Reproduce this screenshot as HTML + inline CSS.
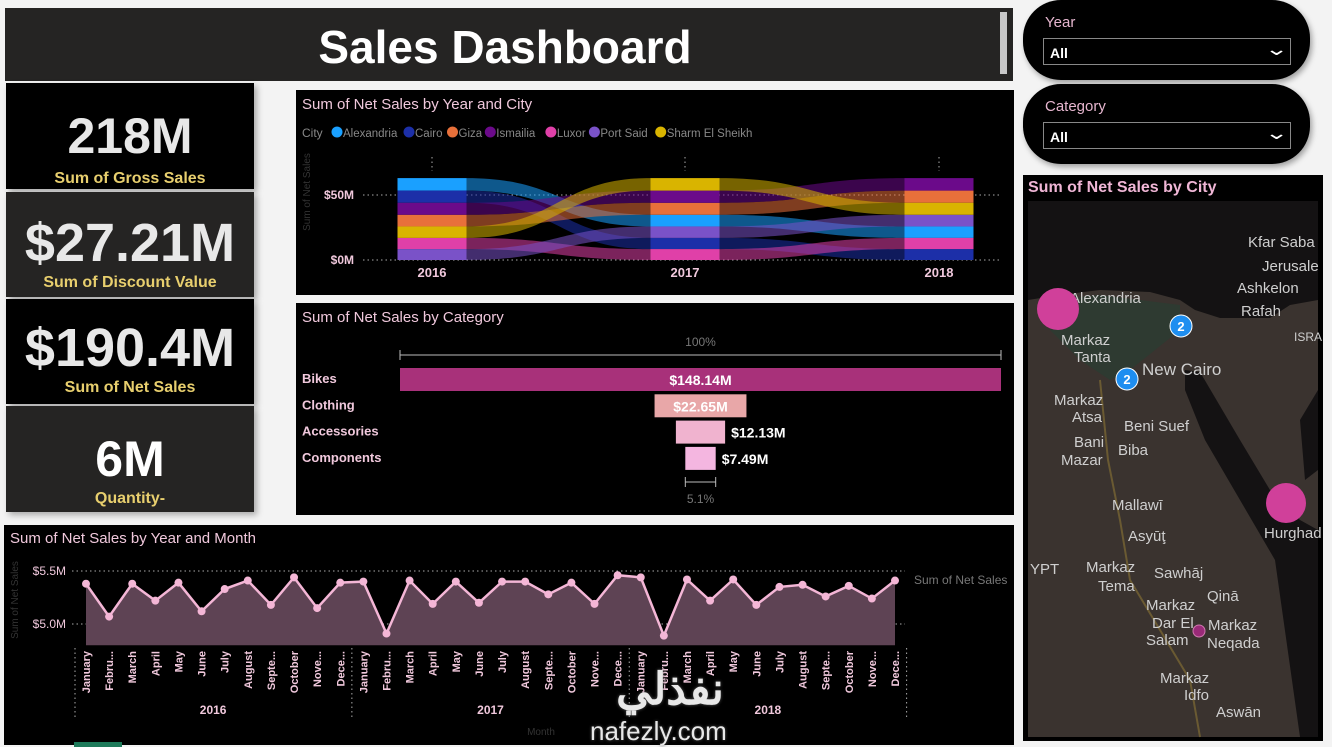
<!DOCTYPE html>
<html><head><meta charset="utf-8">
<style>
*{box-sizing:border-box;margin:0;padding:0}
body{width:1332px;height:747px;background:#f3f3f3;position:relative;overflow:hidden;font-family:"Liberation Sans",sans-serif}
.abs{position:absolute}
.kpi{position:absolute;left:6px;width:248px;text-align:center;box-shadow:3px 3px 6px rgba(0,0,0,.3)}
.kv{color:#e8e8e8;font-weight:bold;font-size:50px;font-family:"Liberation Sans Narrow","Liberation Sans",sans-serif;line-height:1}
.kl{color:#e8cf6e;font-weight:bold;font-size:16px;font-family:"Liberation Sans Narrow","Liberation Sans",sans-serif}
.panel{position:absolute;background:#000}
.slicer{position:absolute;left:1023px;width:287px;height:80px;background:#000;border-radius:38px;box-shadow:2px 3px 6px rgba(0,0,0,.35)}
.slab{position:absolute;left:22px;top:14px;color:#e6b6cf;font-size:15px}
.sbox{position:absolute;left:20px;top:38px;width:248px;height:27px;border:1px solid #888;color:#fff;font-size:14px;padding:6px 0 0 6px;font-weight:bold}
svg text{font-family:"Liberation Sans Narrow","Liberation Sans",sans-serif}
</style></head><body>

<div class="abs" style="left:5px;top:8px;width:1008px;height:73px;background:#252423;">
  <div style="position:absolute;left:0;width:1000px;top:12px;text-align:center;color:#fff;font-size:46px;font-weight:bold">Sales Dashboard</div>
  <div style="position:absolute;left:995px;top:4px;width:7px;height:62px;background:#c8c8c8"></div>
</div>

<div class="kpi" style="top:83px;height:106px;background:#000"><div class="kv" style="margin-top:28px">218M</div><div class="kl" style="margin-top:9px">Sum of Gross Sales</div></div>
<div class="kpi" style="top:192px;height:105px;background:#252423"><div class="kv" style="margin-top:24px;font-size:54px">$27.21M</div><div class="kl" style="margin-top:4px">Sum of Discount Value</div></div>
<div class="kpi" style="top:299px;height:105px;background:#000"><div class="kv" style="margin-top:22px;font-size:54px">$190.4M</div><div class="kl" style="margin-top:4px">Sum of Net Sales</div></div>
<div class="kpi" style="top:406px;height:106px;background:#252423"><div class="kv" style="margin-top:28px;color:#fff">6M</div><div class="kl" style="margin-top:6px">Quantity-</div></div>

<div class="slicer" style="top:0">
 <div class="slab">Year</div>
 <div class="sbox">All<span style="position:absolute;right:6px;top:0;font-weight:normal;font-size:18px;transform:scaleX(1.6)">⌄</span></div>
</div>
<div class="slicer" style="top:84px">
 <div class="slab">Category</div>
 <div class="sbox">All<span style="position:absolute;right:6px;top:0;font-weight:normal;font-size:18px;transform:scaleX(1.6)">⌄</span></div>
</div>

<div class="panel" style="left:296px;top:90px;width:718px;height:205px"></div>
<svg id="ribbon" class="abs" style="left:0;top:0" width="1332" height="747"></svg>

<div class="panel" style="left:296px;top:303px;width:718px;height:212px"></div>
<svg id="funnel" class="abs" style="left:0;top:0" width="1332" height="747"></svg>

<div class="panel" style="left:4px;top:525px;width:1010px;height:220px"></div>
<svg id="line" class="abs" style="left:0;top:0" width="1332" height="747"></svg>

<div class="panel" style="left:1023px;top:175px;width:300px;height:566px"></div>
<svg class="abs" style="left:0;top:0" width="1332" height="747">
 <text x="1028" y="192" fill="#f0b6d6" font-size="16" font-weight="bold" style="font-family:'Liberation Sans',sans-serif">Sum of Net Sales by City</text>
 <rect x="1028" y="201" width="290" height="536" fill="#3a332f"/>
 <path d="M1028 201 H1318 V300 L1290 305 L1270 318 L1220 318 L1195 310 L1180 300 L1150 292 L1100 290 L1060 295 L1028 300 Z" fill="#141213"/>
 <path d="M1045 300 L1100 295 L1180 305 L1180 330 L1130 370 L1110 380 L1080 360 L1050 330 Z" fill="#2e3a31"/>
 <path d="M1185 370 L1200 372 L1240 440 L1270 490 L1300 520 L1318 530 L1318 737 L1300 737 L1275 560 L1240 500 L1205 440 L1185 390 Z" fill="#141213"/>
 <path d="M1300 420 L1318 390 L1318 470 L1305 480 Z" fill="#141213"/>
 <path d="M1100 380 L1108 460 L1120 520 L1130 580 L1160 630 L1190 680 L1200 737" stroke="#6a5a32" stroke-width="2" fill="none"/>
 <g fill="#cfcfcf" font-size="15" style="font-family:'Liberation Sans',sans-serif">
  <text x="1248" y="247">Kfar Saba</text><text x="1262" y="271">Jerusale</text><text x="1237" y="293">Ashkelon</text><text x="1241" y="316">Rafah</text><text x="1294" y="341" font-size="12">ISRA</text>
  <text x="1070" y="303">Alexandria</text><text x="1061" y="345">Markaz</text><text x="1074" y="362">Tanta</text><text x="1142" y="375" font-size="17">New Cairo</text>
  <text x="1054" y="405">Markaz</text><text x="1072" y="422">Atsa</text><text x="1124" y="431">Beni Suef</text><text x="1074" y="447">Bani</text><text x="1118" y="455">Biba</text><text x="1061" y="465">Mazar</text>
  <text x="1112" y="510">Mallawī</text><text x="1128" y="541">Asyūţ</text><text x="1030" y="574">YPT</text><text x="1086" y="572">Markaz</text><text x="1098" y="591">Tema</text><text x="1154" y="578">Sawhāj</text>
  <text x="1207" y="601">Qinā</text><text x="1146" y="610">Markaz</text><text x="1152" y="628">Dar El</text><text x="1146" y="645">Salam</text><text x="1208" y="630">Markaz</text><text x="1207" y="648">Neqada</text>
  <text x="1160" y="683">Markaz</text><text x="1184" y="700">Idfo</text><text x="1216" y="717">Aswān</text><text x="1264" y="538">Hurghad</text>
 </g>
 <circle cx="1058" cy="309" r="21" fill="#d0409a"/>
 <circle cx="1286" cy="503" r="20" fill="#d0409a"/>
 <circle cx="1199" cy="631" r="6" fill="#9a2a78" stroke="#d07ab0"/>
 <circle cx="1181" cy="326" r="11" fill="#1e8ef0" stroke="#fff"/>
 <text x="1181" y="331" fill="#fff" font-size="13" text-anchor="middle" font-weight="bold">2</text>
 <circle cx="1127" cy="379" r="11" fill="#1e8ef0" stroke="#fff"/>
 <text x="1127" y="384" fill="#fff" font-size="13" text-anchor="middle" font-weight="bold">2</text>
</svg>

<div class="abs" style="left:590px;top:668px;width:160px;text-align:center;color:#e8e8e8;font-size:44px;font-weight:bold;line-height:1;font-family:'Liberation Sans','Noto Sans CJK SC',sans-serif;text-shadow:0 0 3px #555">نفذلي</div>
<div class="abs" style="left:590px;top:716px;color:#e8e8e8;font-size:26px;font-family:'Liberation Sans',sans-serif;text-shadow:0 0 3px #555">nafezly.com</div>
<div class="abs" style="left:74px;top:742px;width:48px;height:5px;background:#1e7a5a"></div>

<script>
const NS='http://www.w3.org/2000/svg';
function mk(parent,tag,attrs,txt){const e=document.createElementNS(NS,tag);for(const k in attrs)e.setAttribute(k,attrs[k]);if(txt!==undefined)e.textContent=txt;parent.appendChild(e);return e;}

const ribbonYears=['2016','2017','2018'];
const ribbonCities=['Alexandria','Cairo','Giza','Ismailia','Luxor','Port Said','Sharm El Sheikh'];
const ribbonColors=['#1aa0ff','#1c2fa8','#e8703a','#6b0a8a','#e040a8','#7a52c8','#d9b400'];
const sales2016=[9.6,9.4,9.0,9.2,8.6,8.4,8.8];
const sales2017=[9.0,8.6,9.2,9.4,8.4,8.8,9.6];
const sales2018=[8.8,8.4,9.4,9.6,8.6,9.0,9.2];
const ribbonTicks=[0,50];
const ribbonTickLabels=['$0M','$50M'];

const rs=document.getElementById('ribbon');
mk(rs,'text',{x:302,y:109,fill:'#f0c8dc','font-size':15},'Sum of Net Sales by Year and City');
mk(rs,'text',{x:302,y:137,fill:'#888','font-size':12},'City');
let lx=331;
ribbonCities.forEach((c,i)=>{
  const g=mk(rs,'g',{});
  
  
  mk(g,'circle',{cx:lx+6,cy:132,r:5.5,fill:ribbonColors[i]});
  mk(g,'text',{x:lx+12,y:137,fill:'#888','font-size':11.5},c);
  lx+=12+c.length*5.7+3;
});
const rY=v=>260-v*1.3;
const rXc=[432,685,939], rBW=69;
ribbonTicks.forEach((t,i)=>{
  mk(rs,'line',{x1:363,x2:1000,y1:rY(t),y2:rY(t),stroke:'#aaa','stroke-dasharray':'1.5 3'});
  mk(rs,'text',{x:354,y:rY(t)+4,fill:'#f0c8dc','font-size':12,'font-weight':'bold','text-anchor':'end'},ribbonTickLabels[i]);
});
mk(rs,'text',{x:310,y:192,fill:'#333','font-size':10,transform:'rotate(-90 310 192)','text-anchor':'middle'},'Sum of Net Sales');
const allSales=[sales2016,sales2017,sales2018];
const stacks=allSales.map(vals=>{
  const order=vals.map((v,i)=>i).sort((a,b)=>vals[a]-vals[b]);
  const pos=[];let acc=0;
  order.forEach(i=>{pos[i]=[acc,acc+vals[i]];acc+=vals[i];});
  return pos;
});
for(let y=0;y<2;y++){
  const x1=rXc[y]+rBW/2,x2=rXc[y+1]-rBW/2,mx=(x1+x2)/2;
  ribbonCities.forEach((c,i)=>{
    const a=stacks[y][i],b=stacks[y+1][i];
    const t1=rY(a[1]),b1=rY(a[0]),t2=rY(b[1]),b2=rY(b[0]);
    const p=mk(rs,'path',{d:`M${x1} ${t1} C${mx} ${t1} ${mx} ${t2} ${x2} ${t2} L${x2} ${b2} C${mx} ${b2} ${mx} ${b1} ${x1} ${b1} Z`,fill:ribbonColors[i],opacity:0.55});
    
    
  });
}
ribbonYears.forEach((yr,y)=>{
  mk(rs,'line',{x1:rXc[y],x2:rXc[y],y1:157,y2:171,stroke:'#aaa','stroke-dasharray':'1.5 3'});
  ribbonCities.forEach((c,i)=>{
    const s=stacks[y][i];
    const r=mk(rs,'rect',{x:rXc[y]-rBW/2,y:rY(s[1]),width:rBW,height:rY(s[0])-rY(s[1]),fill:ribbonColors[i]});
    
    
  });
  mk(rs,'text',{x:rXc[y],y:277,fill:'#f0c8dc','font-size':13,'font-weight':'bold','text-anchor':'middle'},yr);
});

const funnelCats=['Bikes','Clothing','Accessories','Components'];
const funnelVals=[148.14,22.65,12.13,7.49];
const funnelLabels=['$148.14M','$22.65M','$12.13M','$7.49M'];
const funnelColors=['#a8317a','#e8a7a8','#f0b3cf','#f4b6e0'];
const fs=document.getElementById('funnel');
mk(fs,'text',{x:302,y:322,fill:'#f0c8dc','font-size':15},'Sum of Net Sales by Category');
const fL=400,fR=1001,fC=(fL+fR)/2,fMax=Math.max(...funnelVals);
const fW=v=>v/fMax*(fR-fL);
mk(fs,'text',{x:fC,y:346,fill:'#777','font-size':12,'text-anchor':'middle'},'100%');
mk(fs,'path',{d:`M${fL} 350 V360 M${fL} 355 H${fR} M${fR} 350 V360`,stroke:'#bbb',fill:'none'});
funnelCats.forEach((c,i)=>{
  const y=368+i*26.3,w=fW(funnelVals[i]);
  const r=mk(fs,'rect',{x:fC-w/2,y:y,width:w,height:23,fill:funnelColors[i]});
  
  
  mk(fs,'text',{x:302,y:y+15,fill:'#f0c8dc','font-size':13,'font-weight':'bold'},c);
  const inside=w>80;
  mk(fs,'text',{x:inside?fC:fC+w/2+6,y:y+17,fill:'#fff','font-size':14,'font-weight':'bold','text-anchor':inside?'middle':'start'},funnelLabels[i]);
});
const lastW=fW(funnelVals[funnelVals.length-1]);
mk(fs,'path',{d:`M${fC-lastW/2} 477 V487 M${fC-lastW/2} 482 H${fC+lastW/2} M${fC+lastW/2} 477 V487`,stroke:'#bbb',fill:'none'});
mk(fs,'text',{x:fC,y:503,fill:'#777','font-size':12,'text-anchor':'middle'},(funnelVals[3]/funnelVals[0]*100).toFixed(1)+'%');

const lineYears=['2016','2017','2018'];
const lineMonths=['January','Febru...','March','April','May','June','July','August','Septe...','October','Nove...','Dece...'];
const net2016=[5.38,5.07,5.38,5.22,5.39,5.12,5.33,5.41,5.18,5.44,5.15,5.39];
const net2017=[5.40,4.91,5.41,5.19,5.40,5.20,5.40,5.40,5.28,5.39,5.19,5.46];
const net2018=[5.44,4.89,5.42,5.22,5.42,5.18,5.35,5.37,5.26,5.36,5.24,5.41];
const lineTicks=[5.0,5.5];
const lineTickLabels=['$5.0M','$5.5M'];
const ls=document.getElementById('line');
mk(ls,'text',{x:10,y:543,fill:'#f0c8dc','font-size':15},'Sum of Net Sales by Year and Month');
const lineVals=net2016.concat(net2017,net2018);
const lY=v=>571+(5.5-v)*106;
const lX=i=>86+i*(895-86)/35;
const base=4.8;
lineTicks.forEach((t,i)=>{
  mk(ls,'line',{x1:72,x2:905,y1:lY(t),y2:lY(t),stroke:'#aaa','stroke-dasharray':'1.5 3'});
  mk(ls,'text',{x:66,y:lY(t)+4,fill:'#f0c8dc','font-size':12,'text-anchor':'end'},lineTickLabels[i]);
});
mk(ls,'text',{x:18,y:600,fill:'#333','font-size':10,transform:'rotate(-90 18 600)','text-anchor':'middle'},'Sum of Net Sales');
let area=`M${lX(0)} ${lY(base)}`;lineVals.forEach((v,i)=>area+=` L${lX(i)} ${lY(v)}`);area+=` L${lX(35)} ${lY(base)} Z`;
const ar=mk(ls,'path',{d:area,fill:'#5e4354'});


const ln=mk(ls,'polyline',{points:lineVals.map((v,i)=>lX(i)+','+lY(v)).join(' '),fill:'none',stroke:'#f4b6d6','stroke-width':2.5});


lineVals.forEach((v,i)=>{
  const c=mk(ls,'circle',{cx:lX(i),cy:lY(v),r:4,fill:'#f4b6d6'});
  
  
  const x=lX(i)+4;
  mk(ls,'text',{x:x,y:651,fill:'#f0c8dc','font-size':11,'font-weight':'bold','text-anchor':'end',transform:`rotate(-90 ${x} 651)`},lineMonths[i%12]);
});
[0,12,24,36].forEach(k=>{const x=k===0?75:lX(k)-11.5;mk(ls,'line',{x1:x,x2:x,y1:648,y2:720,stroke:'#aaa','stroke-dasharray':'1.5 3'});});
lineYears.forEach((yr,j)=>mk(ls,'text',{x:(lX(j*12)+lX(j*12+11))/2,y:714,fill:'#f0c8dc','font-size':12,'font-weight':'bold','text-anchor':'middle'},yr));
mk(ls,'text',{x:914,y:584,fill:'#777','font-size':12},'Sum of Net Sales');
mk(ls,'text',{x:541,y:735,fill:'#333','font-size':10,'text-anchor':'middle'},'Month');
</script>
</body></html>
